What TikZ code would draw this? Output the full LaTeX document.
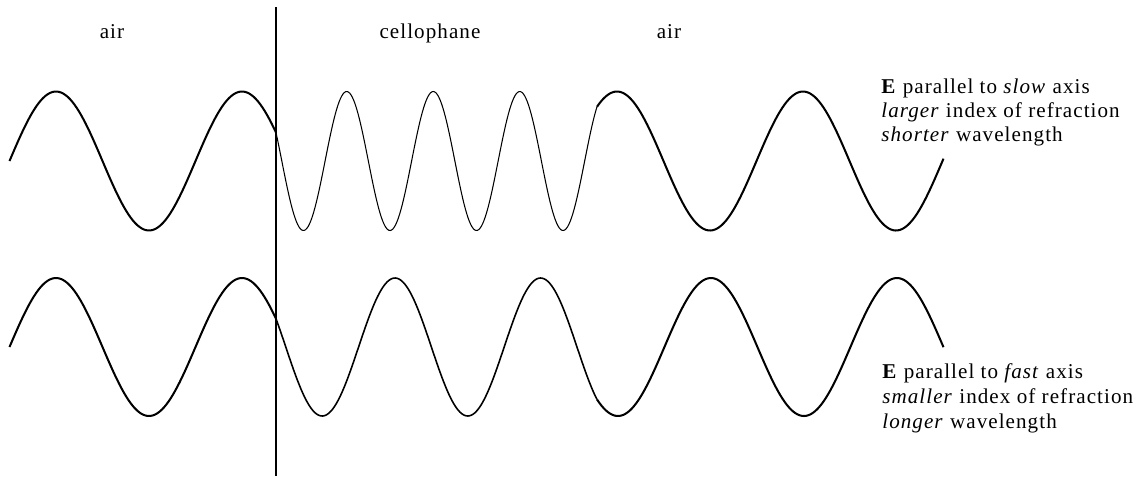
\documentclass[tikz,border=0pt]{standalone}
\usepackage{fontspec}
\setmainfont{Liberation Serif}[LetterSpace=5]
\begin{document}
\begin{tikzpicture}[x=0.02cm,y=-0.02cm,
  thickwave/.style={line width=1.15pt,line join=round},
  thinwave/.style={line width=0.6pt,line join=round},
  midwave/.style={line width=0.9pt,line join=round},
  interface/.style={line width=1.15pt},
  lbl/.style={inner sep=0pt,anchor=base,font=\fontsize{12}{15}\selectfont},
  desc/.style={inner sep=0pt,anchor=base west,font=\fontsize{12}{15}\selectfont}]
\useasboundingbox (0,0) rectangle (1146,478);
% interface
\coordinate (itop) at (276,7);
\coordinate (ibot) at (276,476);
\draw[interface] (itop) -- (ibot);
% region labels
\node[lbl] (airL) at (112,38) {air};
\node[lbl] (cello) at (430,38) {cellophane};
\node[lbl] (airR) at (669,38) {air};
% top wave (slow axis)
\draw[thickwave] plot[domain=9.5:276,samples=120] (\x,{161-69.5*sin((\x-9.5)/186*360)});
\draw[thinwave] plot[domain=276:597,samples=240] (\x,{161-69.5*sin(515.81+(\x-276)/86.53*360)});
\draw[thickwave] plot[domain=597:943.5,samples=160] (\x,{161-69.5*sin(1851.3+(\x-597)/186*360)});
% bottom wave (fast axis)
\draw[thickwave] plot[domain=9.5:276,samples=120] (\x,{347-69*sin((\x-9.5)/186*360)});
\draw[midwave] plot[domain=276:597,samples=200] (\x,{347-69*sin(515.81+(\x-276)/145.6*360)});
\draw[thickwave] plot[domain=597:943.5,samples=160] (\x,{347-69*sin(1309.5+(\x-597)/186*360)});
% descriptions
\node[desc] (s1) at (881,93) {\textbf{E} parallel to \textit{slow} axis};
\node[desc] (s2) at (881,117) {\textit{larger} index of refraction};
\node[desc] (s3) at (881,141) {\textit{shorter} wavelength};
\node[desc] (f1) at (882,378) {\textbf{E} parallel to \textit{fast} axis};
\node[desc] (f2) at (882,403) {\textit{smaller} index of refraction};
\node[desc] (f3) at (882,428) {\textit{longer} wavelength};
\end{tikzpicture}
\end{document}
